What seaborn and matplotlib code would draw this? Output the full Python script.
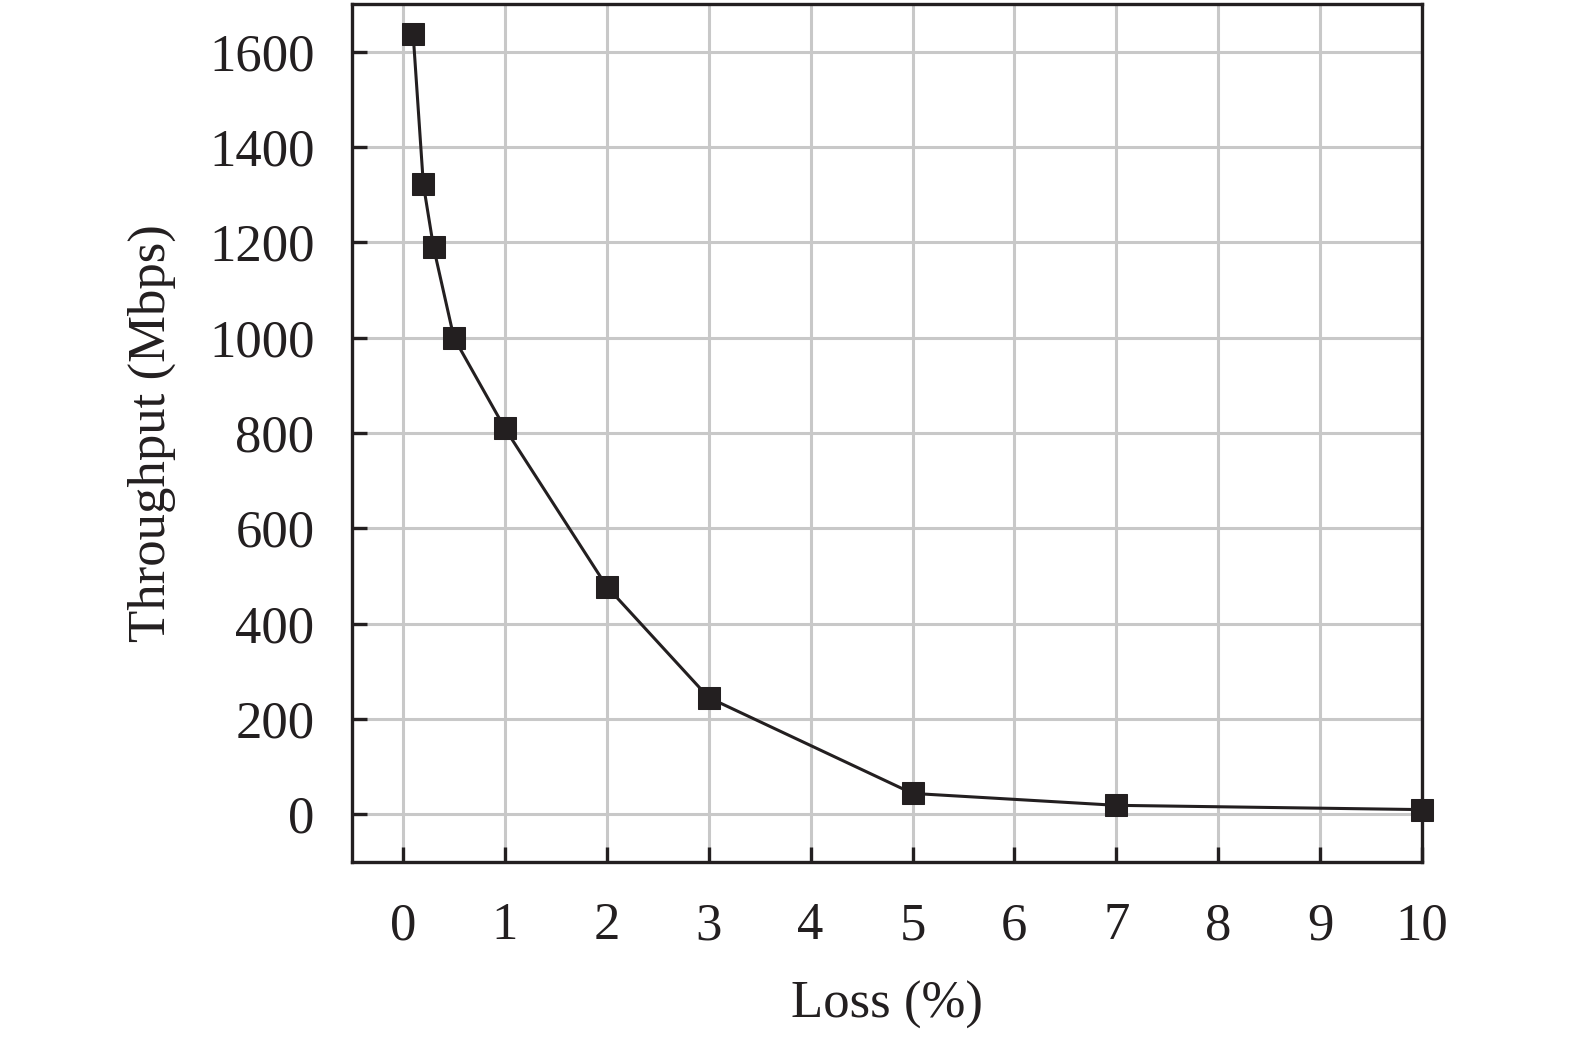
import matplotlib
matplotlib.use("Agg")
import matplotlib.pyplot as plt
import seaborn as sns
import pandas as pd

loss = [0.1, 0.2, 0.3, 0.5, 1, 2, 3, 5, 7, 10]
throughput = [1637, 1322, 1190, 1000, 810, 478, 245, 44, 19, 10]
xticks = [0, 1, 2, 3, 4, 5, 6, 7, 8, 9, 10]
yticks = [0, 200, 400, 600, 800, 1000, 1200, 1400, 1600]

df = pd.DataFrame({"Loss (%)": loss, "Throughput (Mbps)": throughput})

sns.set_theme(style="whitegrid")
plt.rcParams['font.family'] = ['Liberation Serif', 'DejaVu Serif']
plt.rcParams['mathtext.fontset'] = 'stix'

dark = "#231f20"
fig = plt.figure(figsize=(15.75, 10.43), dpi=100)
ax = fig.add_axes([0.2235, 0.1735, 0.6794, 0.8225])

sns.lineplot(data=df, x="Loss (%)", y="Throughput (Mbps)", ax=ax, color=dark,
             linewidth=2.2, marker="s", markersize=16, markeredgecolor=dark,
             markerfacecolor=dark, clip_on=False, zorder=6)

ax.set_xlim(-0.5, 10)
ax.set_ylim(-100, 1700)
ax.set_xticks(xticks)
ax.set_yticks(yticks)
ax.grid(True, color="#c8c8c8", linewidth=2.2)
ax.set_axisbelow(True)
for s in ax.spines.values():
    s.set_color(dark)
    s.set_linewidth(2.4)
    s.set_visible(True)
ax.tick_params(axis='both', which='both', direction='in', length=11, width=2.4,
               color=dark, labelsize=38, labelcolor=dark, top=False, right=False,
               bottom=True, left=True)
ax.tick_params(axis='x', pad=29)
ax.tick_params(axis='y', pad=27)
ax.set_xlabel("Loss (%)", fontsize=38, color=dark, labelpad=22)
ax.set_ylabel("Throughput (Mbps)", fontsize=38, color=dark, labelpad=24)
ax.set_facecolor("white")

fig.savefig("out.png", dpi=100, facecolor="white")
